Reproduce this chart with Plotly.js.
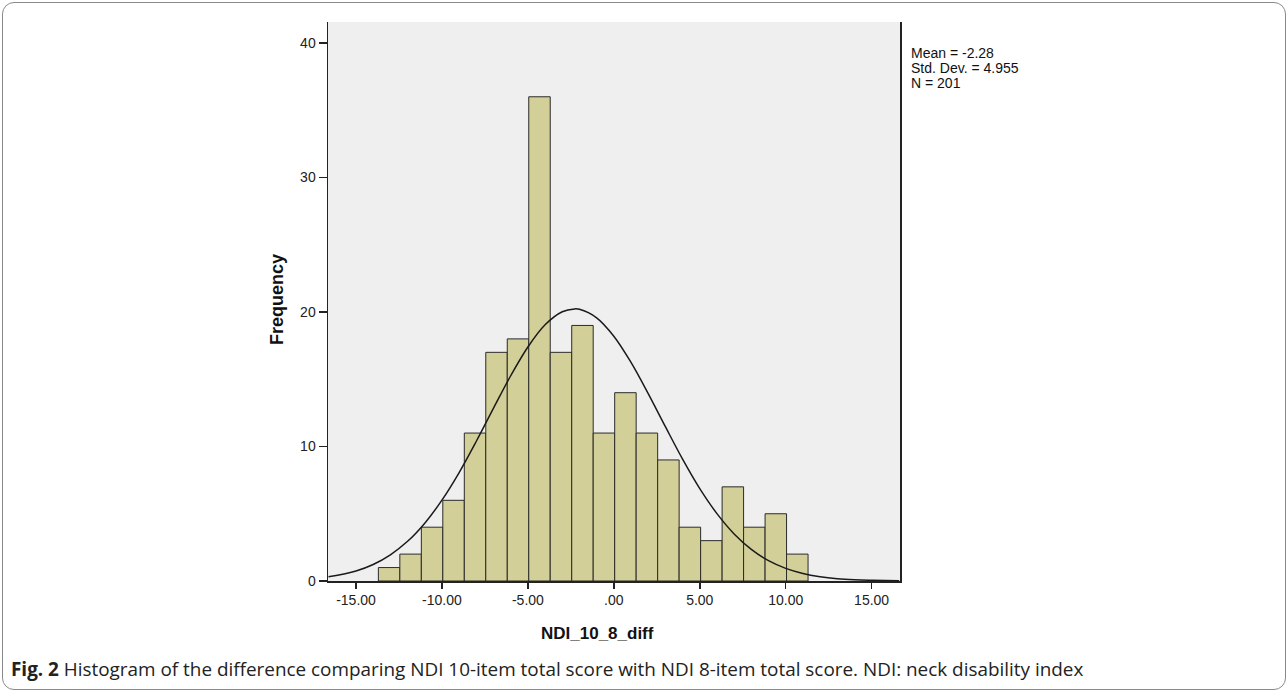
<!DOCTYPE html>
<html>
<head>
<meta charset="utf-8">
<script src="https://cdn.plot.ly/plotly-3.0.1.min.js"></script>
<style>
  html, body { margin: 0; padding: 0; background: #fff; }
  #chart { width: 1288px; height: 692px; position: absolute; left: 0; top: 0; }
  #frame { position: absolute; left: 2px; top: 2px; width: 1282px; height: 686px;
           border: 1px solid #8a8a8a; border-radius: 12px; pointer-events: none; }
</style>
</head>
<body>
<div id="chart"></div>
<div id="frame"></div>
<script>
// Histogram bins (centres) and frequencies
const binCenters = [-13.075, -11.825, -10.575, -9.325, -8.075, -6.825, -5.575, -4.325,
                    -3.075, -1.825, -0.575, 0.675, 1.925, 3.175, 4.425, 5.675,
                    6.925, 8.175, 9.425, 10.675];
const frequencies = [1, 2, 4, 6, 11, 17, 18, 36, 17, 19, 11, 14, 11, 9, 4, 3, 7, 4, 5, 2];
const binWidth = 1.25;

// Normal curve points
const curveX = [-16.6, -15, -14, -13, -12, -11, -10, -9, -8, -7, -6, -5, -4, -3, -2.28, -2, -1,
                0, 1, 2, 3, 4, 5, 6, 7, 8, 9, 10, 11, 12, 13, 14, 15, 16.6];
const curveY = [0.31, 0.75, 1.23, 1.95, 2.95, 4.30, 6.01, 8.06, 10.39, 12.85, 15.26, 17.40, 19.05,
                20.02, 20.23, 20.20, 19.57, 18.20, 16.25, 13.93, 11.47, 9.06, 6.87, 5.01, 3.50,
                2.35, 1.51, 0.94, 0.56, 0.32, 0.17, 0.09, 0.05, 0.01];

const xTickVals = [-15, -10, -5, 0, 5, 10, 15];
const xTickText = ['-15.00', '-10.00', '-5.00', '.00', '5.00', '10.00', '15.00'];
const yTickVals = [0, 10, 20, 30, 40];
const statsLines = ['Mean = -2.28', 'Std. Dev. = 4.955', 'N = 201'];
const xTitle = 'NDI_10_8_diff';
const yTitle = 'Frequency';

const L = 328, R = 900, T = 22, B = 581, W = 1288, H = 692;
const pw = R - L, ph = B - T;
const px = v => (v - L) / pw;
const py = v => (B - v) / ph;

const traces = [
  {
    type: 'bar', x: binCenters, y: frequencies, width: binWidth,
    marker: { color: '#d3cf98', line: { color: '#2a2a2a', width: 1 } },
    hoverinfo: 'skip'
  },
  {
    type: 'scatter', mode: 'lines', x: curveX, y: curveY,
    line: { color: '#1a1a1a', width: 1.5, shape: 'spline', smoothing: 1 },
    hoverinfo: 'skip'
  }
];

const tickFont = { family: 'Liberation Sans, Arial, sans-serif', size: 14, color: '#222' };

const annotations = [];
statsLines.forEach((t, i) => {
  annotations.push({
    xref: 'paper', yref: 'paper', x: px(909), y: py(53 + i * 15),
    xanchor: 'left', yanchor: 'middle', text: t, showarrow: false,
    font: { family: 'Liberation Sans, Arial, sans-serif', size: 14, color: '#111' }
  });
});
annotations.push({
  xref: 'paper', yref: 'paper', x: px(597), y: py(633), xanchor: 'center', yanchor: 'middle',
  text: '<b>' + xTitle + '</b>', showarrow: false,
  font: { family: 'Liberation Sans, Arial, sans-serif', size: 17, color: '#111' }
});
annotations.push({
  xref: 'paper', yref: 'paper', x: px(277), y: py(300), xanchor: 'center', yanchor: 'middle',
  text: '<b>' + yTitle + '</b>', showarrow: false, textangle: -90,
  font: { family: 'Liberation Sans, Arial, sans-serif', size: 18, color: '#111' }
});
annotations.push({
  xref: 'paper', yref: 'paper', x: px(9), y: py(669), xanchor: 'left', yanchor: 'middle',
  text: '<b>Fig. 2</b> Histogram of the difference comparing NDI 10-item total score with NDI 8-item total score. NDI: neck disability index',
  showarrow: false,
  font: { family: 'Open Sans, sans-serif', size: 18.9, color: '#222' }
});

const layout = {
  width: W, height: H,
  margin: { l: L, r: W - R, t: T, b: H - B, pad: 0 },
  paper_bgcolor: '#ffffff', plot_bgcolor: '#efefef',
  showlegend: false, bargap: 0,
  xaxis: {
    range: [-16.63, 16.65], tickvals: xTickVals, ticktext: xTickText,
    showgrid: false, zeroline: false, showline: true, linecolor: '#222', linewidth: 1.5,
    ticks: 'outside', ticklen: 6, tickwidth: 1.5, tickcolor: '#222', tickfont: tickFont,
    mirror: false
  },
  yaxis: {
    range: [0, 41.56], tickvals: yTickVals,
    showgrid: false, zeroline: false, showline: true, linecolor: '#222', linewidth: 1.5,
    ticks: 'outside', ticklen: 8, tickwidth: 1.5, tickcolor: '#222', tickfont: tickFont,
    mirror: true
  },
  annotations: annotations
};

Plotly.newPlot('chart', traces, layout, { staticPlot: true, displayModeBar: false });
</script>
</body>
</html>
